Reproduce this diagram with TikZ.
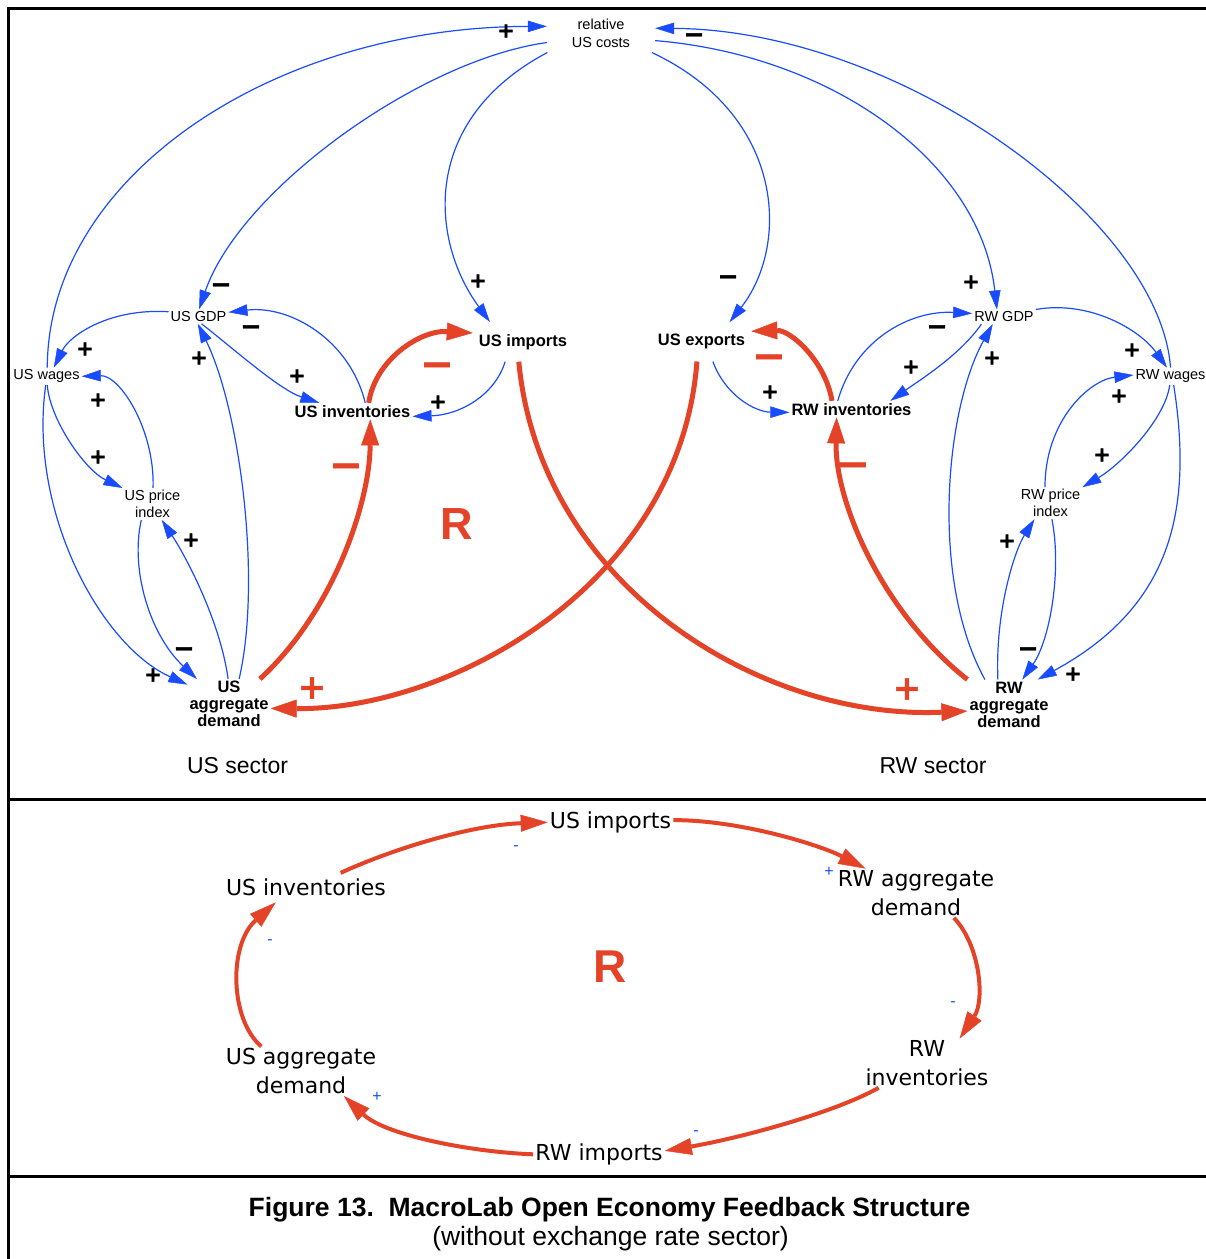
\documentclass[tikz,border=0pt]{standalone}
\usepackage{fontspec}
\setmainfont{Liberation Sans}
\newfontfamily\loopfont{DejaVu Sans}
\newfontface\signface{DejaVu Sans Bold}[FakeBold=1.5]
\usetikzlibrary{arrows.meta}
\definecolor{linkblue}{RGB}{25,75,255}
\definecolor{loopred}{RGB}{229,67,40}
\begin{document}
\begin{tikzpicture}[x=1pt,y=-1pt,
  smallvar/.style={font=\fontsize{14.5}{17}\selectfont, align=center, inner sep=2pt},
  boldvar/.style={font=\bfseries\fontsize{16.5}{17}\selectfont, align=center, inner sep=2pt},
  loopvar/.style={font=\loopfont\fontsize{22}{28.5}\selectfont, align=center, inner sep=2pt},
  blink/.style={draw=linkblue, line width=1.2pt, -{Triangle[length=19pt,width=11.5pt,line width=0.5pt]}},
  rlink/.style={draw=loopred, line width=5pt, -{Triangle[length=26pt,width=18pt,line width=0.5pt]}},
  llink/.style={draw=loopred, line width=4pt, -{Triangle[length=27pt,width=17pt,line width=0.5pt]}},
  psgn/.style={font=\signface\fontsize{21}{21}\selectfont, inner sep=0pt},
  msgn/.style={font=\signface\fontsize{25}{25}\selectfont, inner sep=0pt, yshift=-3pt},
  rpsgn/.style={text=loopred, font=\signface\fontsize{34}{34}\selectfont, inner sep=0pt},
  rmsgn/.style={text=loopred, font=\signface\fontsize{40}{40}\selectfont, inner sep=0pt, yshift=-5pt},
  ssgn/.style={text=linkblue, font=\fontsize{16}{16}\selectfont, inner sep=0pt},
  bigR/.style={text=loopred, font=\bfseries\fontsize{45}{45}\selectfont, inner sep=0pt},
  sector/.style={font=\fontsize{23}{23}\selectfont, inner sep=0pt},
  frame/.style={line width=2.5pt}]
\useasboundingbox (0,0) rectangle (1206,1259);
% frame
\draw[frame] (8.7,1259) -- (8.7,8.3) -- (1206,8.3);
\draw[frame] (8.7,799.5) -- (1206,799.5);
\draw[frame] (8.7,1176.5) -- (1206,1176.5);
% ---------- upper diagram: variables ----------
\node[smallvar, font=\fontsize{14.5}{18}\selectfont, inner xsep=25pt, inner ysep=5pt] (ruc) at (601,33) {relative\\US costs};
\node[smallvar] (usgdp) at (198.5,316.5) {US GDP};
\node[smallvar] (uswages) at (46.5,376.3) {US wages};
\node[smallvar] (uspi) at (152.5,504) {US price\\index};
\node[boldvar] (usad) at (229,704) {US\\aggregate\\demand};
\node[boldvar] (usinv) at (352.5,411.1) {US inventories};
\node[boldvar, inner xsep=6pt, inner ysep=12pt] (usimp) at (523,341.8) {US imports};
\node[boldvar, inner xsep=6pt, inner ysep=12pt] (usexp) at (701.5,341.8) {US exports};
\node[boldvar] (rwinv) at (851.5,409.1) {RW inventories};
\node[smallvar] (rwgdp) at (1004,316.8) {RW GDP};
\node[smallvar] (rwwages) at (1170.5,376.3) {RW wages};
\node[smallvar] (rwpi) at (1050.5,503.2) {RW price\\index};
\node[boldvar] (rwad) at (1009,704.5) {RW\\aggregate\\demand};
\node[bigR] (rtop) at (457,524) {R};
\node[sector] (ussec) at (237.5,766) {US sector};
\node[sector] (rwsec) at (933,766) {RW sector};
% ---------- upper diagram: blue links ----------
\draw[blink] (uswages.85) .. controls (48,177) and (272,27) .. (ruc.173);
\draw[blink] (ruc.190) .. controls (420,60) and (240,190) .. (usgdp.85);
\draw[blink] (ruc.200) .. controls (420,120) and (430,240) .. (usimp.149);
\draw[blink] (ruc.339) .. controls (785,115) and (790,245) .. (usexp.35);
\draw[blink] (ruc.352) .. controls (830,55) and (980,160) .. (rwgdp.134);
\draw[blink] (rwwages.90) .. controls (1160,220) and (900,30) .. (ruc.5);
\draw[blink] (usgdp.171) .. controls (110,308) and (70,335) .. (uswages.50);
\draw[blink] (usinv.33) .. controls (350,340) and (290,305) .. (usgdp.8);
\draw[blink] (usgdp.293) .. controls (235,350) and (280,390) .. (usinv.166);
\draw[blink] (usad.68) .. controls (262,580) and (240,410) .. (usgdp.265);
\draw[blink] (uspi.88) .. controls (155,430) and (120,375) .. (uswages.0);
\draw[blink] (uswages.275) .. controls (50,420) and (85,470) .. (uspi.north west);
\draw[blink] (uswages.265) .. controls (28,510) and (100,645) .. (usad.155);
\draw[blink] (uspi.235) .. controls (130,570) and (150,635) .. (usad.142);
\draw[blink] (usad.92) .. controls (220,620) and (185,555) .. (uspi.300);
\draw[blink] (usimp.228) .. controls (495,395) and (460,415) .. (usinv.355);
\draw[blink] (usexp.300) .. controls (725,395) and (755,412) .. (rwinv.183);
\draw[blink] (rwinv.149) .. controls (855,340) and (910,310) .. (rwgdp.174);
\draw[blink] (rwgdp.198) .. controls (960,355) and (920,380) .. (rwinv.12);
\draw[blink] (rwad.134) .. controls (930,580) and (945,410) .. (rwgdp.213);
\draw[blink] (rwgdp.north east) .. controls (1090,300) and (1140,330) .. (rwwages.112);
\draw[blink] (rwpi.109) .. controls (1045,420) and (1090,380) .. (rwwages.178);
\draw[blink] (rwwages.265) .. controls (1165,420) and (1120,465) .. (rwpi.north east);
\draw[blink] (rwwages.290) .. controls (1195,520) and (1165,610) .. (rwad.41);
\draw[blink] (rwpi.275) .. controls (1062,570) and (1050,640) .. (rwad.62);
\draw[blink] (rwad.114) .. controls (995,610) and (1015,550) .. (rwpi.225);
% ---------- upper diagram: red loop ----------
\draw[rlink] (usad.39) .. controls (335,610) and (370,500) .. (usinv.335);
\draw[rlink] (usinv.27) .. controls (375,360) and (420,330) .. (usimp.170);
\draw[rlink] (usimp.258) .. controls (540,585) and (760,720) .. (rwad.189);
\draw[rlink] (usexp.257) .. controls (680,585) and (450,710) .. (usad.354);
\draw[rlink] (rwad.north west) .. controls (880,610) and (835,500) .. (rwinv.209);
\draw[rlink] (rwinv.157) .. controls (825,360) and (790,330) .. (usexp.12);
% ---------- upper diagram: polarities ----------
\node[psgn] (pa) at (506,31) {+};
\node[msgn] (pf) at (694,35) {−};
\node[psgn] (pc) at (478,281) {+};
\node[msgn] (pd) at (728,277) {−};
\node[msgn] (pb) at (221,285) {−};
\node[psgn] (pe) at (971,282) {+};
\node[msgn] (ph) at (251,327) {−};
\node[psgn] (pg) at (85,349) {+};
\node[psgn] (pj) at (199,358) {+};
\node[psgn] (pi) at (297,376) {+};
\node[psgn] (pk) at (98,400) {+};
\node[psgn] (pl) at (98,457) {+};
\node[psgn] (po) at (191,540) {+};
\node[msgn] (pn) at (184,649) {−};
\node[psgn] (pm) at (153,675) {+};
\node[psgn] (pp) at (438,402) {+};
\node[psgn] (pq) at (770,392) {+};
\node[msgn] (pr) at (937,327) {−};
\node[psgn] (ps) at (911,367) {+};
\node[psgn] (pt) at (992,358) {+};
\node[psgn] (pu) at (1132,350) {+};
\node[psgn] (pv) at (1119,396) {+};
\node[psgn] (pw) at (1102,455) {+};
\node[psgn] (pz) at (1007,541) {+};
\node[msgn] (py) at (1028,649) {−};
\node[psgn] (px) at (1073,674) {+};
\node[rmsgn] (pr1) at (346,466) {−};
\node[rmsgn] (pr2) at (437,365) {−};
\node[rpsgn] (pr3) at (907,689) {+};
\node[rpsgn] (pr4) at (312,688) {+};
\node[rmsgn] (pr5) at (853,465) {−};
\node[rmsgn] (pr6) at (769,357) {−};
% ---------- lower diagram: loop summary ----------
\node[loopvar] (lusimp) at (610.5,822.3) {US imports};
\node[loopvar] (lrwad) at (916,893.2) {RW aggregate\\demand};
\node[loopvar] (lrwinv) at (927,1063.2) {RW\\inventories};
\node[loopvar] (lrwimp) at (599,1154.3) {RW imports};
\node[loopvar] (lusad) at (301,1071.2) {US aggregate\\demand};
\node[loopvar, inner ysep=6pt] (lusinv) at (306,887.6) {US inventories};
\node[bigR, font=\bfseries\fontsize{46}{46}\selectfont] (rbot) at (610,966.5) {R};
\draw[llink] (lusinv.23) .. controls (390,850) and (470,825) .. (lusimp.180);
\draw[llink] (lusimp.2) .. controls (740,820) and (820,845) .. (lrwad.154);
\draw[llink] (lrwad.327) .. controls (980,945) and (985,1000) .. (lrwinv.37);
\draw[llink] (lrwinv.207) .. controls (830,1115) and (730,1140) .. (lrwimp.3);
\draw[llink] (lrwimp.180) .. controls (470,1152) and (385,1135) .. (lusad.330);
\draw[llink] (lusad.148) .. controls (230,1020) and (228,945) .. (lusinv.206);
\node[ssgn] (s1) at (516,848) {-};
\node[ssgn] (s2) at (829,872) {+};
\node[ssgn] (s3) at (953,1004) {-};
\node[ssgn] (s4) at (696,1133) {-};
\node[ssgn] (s5) at (377,1097) {+};
\node[ssgn] (s6) at (270,942) {-};
% ---------- caption ----------
\node[font=\bfseries\fontsize{26.5}{26.5}\selectfont, inner sep=0pt] (cap1) at (609.5,1210) {Figure 13.\ \ MacroLab Open Economy Feedback Structure};
\node[font=\fontsize{26.5}{26.5}\selectfont, inner sep=0pt] (cap2) at (610.5,1239) {(without exchange rate sector)};
\end{tikzpicture}
\end{document}
